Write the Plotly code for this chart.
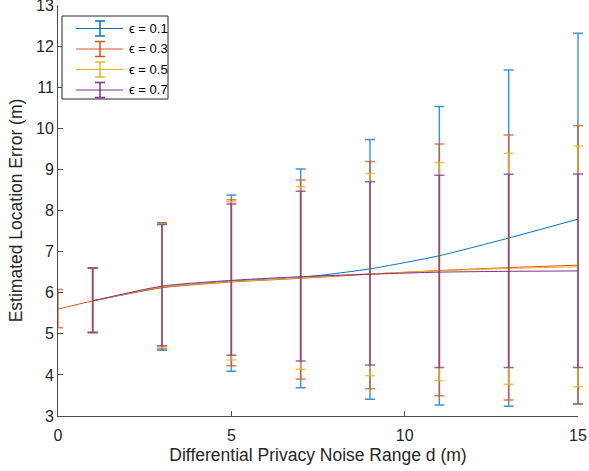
import plotly.graph_objects as go

# ---------------- data ----------------
labels = ["ϵ = 0.1", "ϵ = 0.3", "ϵ = 0.5", "ϵ = 0.7"]
colors = ["#0072BD", "#D95319", "#EDB120", "#7E2F8E"]
bar_colors = ["rgba(0,114,189,0.75)", "rgba(217,83,25,0.75)",
              "rgba(237,177,32,0.75)", "rgba(126,47,142,0.75)"]

x_common = [1, 3, 5, 7, 9, 11, 13, 15]

mean_01 = [5.80, 6.13, 6.28, 6.37, 6.58, 6.90, 7.33, 7.79]
low_01  = [5.03, 4.60, 4.09, 3.69, 3.41, 3.27, 3.24, 3.29]
up_01   = [6.60, 7.70, 8.38, 9.01, 9.73, 10.53, 11.42, 12.31]

x_03    = [0] + x_common
mean_03 = [5.60, 5.80, 6.12, 6.26, 6.35, 6.45, 6.54, 6.61, 6.67]
low_03  = [5.15, 5.03, 4.63, 4.22, 3.90, 3.66, 3.49, 3.39, 3.30]
up_03   = [6.08, 6.60, 7.69, 8.26, 8.74, 9.19, 9.62, 9.84, 10.06]

mean_05 = [5.80, 6.14, 6.27, 6.36, 6.46, 6.53, 6.59, 6.63]
low_05  = [5.03, 4.67, 4.36, 4.14, 3.98, 3.86, 3.77, 3.71]
up_05   = [6.60, 7.68, 8.21, 8.58, 8.90, 9.17, 9.39, 9.57]

mean_07 = [5.80, 6.16, 6.30, 6.39, 6.45, 6.50, 6.52, 6.53]
low_07  = [5.03, 4.71, 4.48, 4.34, 4.24, 4.18, 4.18, 4.18]
up_07   = [6.60, 7.66, 8.16, 8.47, 8.70, 8.86, 8.88, 8.89]

series = [
    (x_common, mean_01, low_01, up_01),
    (x_03, mean_03, low_03, up_03),
    (x_common, mean_05, low_05, up_05),
    (x_common, mean_07, low_07, up_07),
]

x_ticks = [0, 5, 10, 15]
y_ticks = [3, 4, 5, 6, 7, 8, 9, 10, 11, 12, 13]

# ---------------- layout geometry ----------------
W, H = 589, 471
ML, MR, MT, MB = 58, 11, 5, 55
PW, PH = W - ML - MR, H - MT - MB


def px(x):
    return (x - ML) / PW


def py(y):
    return (H - MB - y) / PH


# ---------------- figure ----------------
fig = go.Figure()
for (xs, m, lo, up), name, c, bc in zip(series, labels, colors, bar_colors):
    fig.add_trace(go.Scatter(
        x=xs, y=m, name=name, mode="lines",
        line=dict(color=c, width=1, shape="spline", smoothing=0.6),
        error_y=dict(type="data", symmetric=False,
                     array=[u - v for u, v in zip(up, m)],
                     arrayminus=[v - l for v, l in zip(m, lo)],
                     color=bc, thickness=1.5, width=5),
        cliponaxis=False, showlegend=False,
    ))

# ---------------- legend (drawn box with error-bar glyphs) ----------------
shapes = [dict(type="rect", xref="paper", yref="paper",
               x0=px(62), x1=px(168), y0=py(99), y1=py(16),
               line=dict(color="#262626", width=1), fillcolor="white",
               layer="above")]
annotations = []
row_y = [28.5, 49, 69.5, 90]
for yc, name, c in zip(row_y, labels, colors):
    shapes.append(dict(type="line", xref="paper", yref="paper",
                       x0=px(76), x1=px(123), y0=py(yc), y1=py(yc),
                       line=dict(color=c, width=1), layer="above"))
    shapes.append(dict(type="line", xref="paper", yref="paper",
                       x0=px(100), x1=px(100), y0=py(yc - 7.5), y1=py(yc + 7.5),
                       line=dict(color=c, width=1.5), layer="above"))
    for dy in (-7.5, 7.5):
        shapes.append(dict(type="line", xref="paper", yref="paper",
                           x0=px(95), x1=px(105), y0=py(yc + dy), y1=py(yc + dy),
                           line=dict(color=c, width=1.5), layer="above"))
    annotations.append(dict(text=name, xref="paper", yref="paper",
                            x=px(127), y=py(yc), xanchor="left", yanchor="middle",
                            showarrow=False, font=dict(size=13, color="#000000")))

font_family = "Liberation Sans, Arial, sans-serif"
axis_color = "#4d4d4d"

fig.update_layout(
    width=W, height=H,
    margin=dict(l=ML, r=MR, t=MT, b=MB, autoexpand=False),
    plot_bgcolor="white", paper_bgcolor="white",
    font=dict(family=font_family, size=16, color="#262626"),
    showlegend=False,
    shapes=shapes, annotations=annotations,
    xaxis=dict(range=[0, 15], tickvals=x_ticks, ticks="inside", ticklen=5,
               tickcolor=axis_color, showline=True, linecolor=axis_color,
               linewidth=1, showgrid=False, zeroline=False, automargin=False,
               ticklabeloverflow="allow", tickfont=dict(size=16),
               ticklabelstandoff=5,
               title=dict(text="Differential Privacy Noise Range d (m)",
                          font=dict(size=17.5), standoff=5)),
    yaxis=dict(range=[3, 13], tickvals=y_ticks, ticks="inside", ticklen=5,
               tickcolor=axis_color, showline=True, linecolor=axis_color,
               linewidth=1, showgrid=False, zeroline=False, automargin=False,
               ticklabeloverflow="allow", tickfont=dict(size=16),
               title=dict(text="Estimated Location Error (m)",
                          font=dict(size=17.5), standoff=8)),
)

post_js = """
document.body.style.margin = '0px';
function widenClip() {
  document.querySelectorAll('clipPath[id$="xyplot"] rect').forEach(function (r) {
    r.setAttribute('width', '%d');
  });
}
widenClip();
setTimeout(widenClip, 30);
setTimeout(widenClip, 300);
""" % (PW + 8)

fig.write_html("out.html", post_script=post_js,
               config={"displayModeBar": False})
